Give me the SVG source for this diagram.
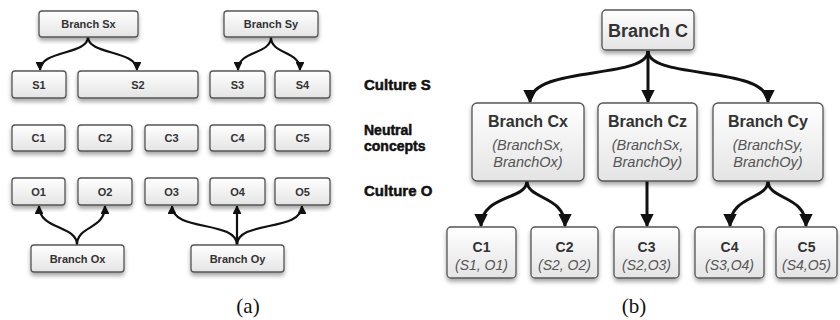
<svg xmlns="http://www.w3.org/2000/svg" width="840" height="320" viewBox="0 0 840 320">
<defs>
<linearGradient id="g" x1="0" y1="0" x2="0" y2="1">
<stop offset="0" stop-color="#ffffff"/>
<stop offset="1" stop-color="#e4e4e4"/>
</linearGradient>
<filter id="sh" x="-10%" y="-10%" width="120%" height="140%">
<feDropShadow dx="0" dy="3" stdDeviation="2" flood-color="#000" flood-opacity="0.35"/>
</filter>
<marker id="ah" viewBox="0 0 10 10" refX="9" refY="5" markerWidth="4" markerHeight="4" orient="auto" markerUnits="strokeWidth">
<path d="M0,0 L10,5 L0,10 Z" fill="#111"/>
</marker>
<marker id="ahs" viewBox="0 0 10 10" refX="9" refY="5" markerWidth="4.5" markerHeight="4.5" orient="auto" markerUnits="strokeWidth">
<path d="M0,0 L10,5 L0,10 Z" fill="#111"/>
</marker>
</defs>
<style>
.b{fill:url(#g);stroke:#555;stroke-width:1.3;filter:url(#sh)}
.t{font-family:"Liberation Sans",Arial,sans-serif;font-weight:bold;fill:#333;text-anchor:middle}
.s{font-size:11px}
.m{font-size:16px}
.n{font-size:14px}
.i{font-family:"Liberation Sans",Arial,sans-serif;font-style:italic;fill:#555;text-anchor:middle;font-size:14.5px}
.j{font-family:"Liberation Sans",Arial,sans-serif;font-style:italic;fill:#555;text-anchor:middle;font-size:14px}
.lab{font-family:"Liberation Sans",Arial,sans-serif;font-weight:bold;fill:#111;stroke:#111;stroke-width:0.5;font-size:15px}
.lab2{font-size:14px}
.cap{font-family:"Liberation Serif","Times New Roman",serif;font-size:21px;fill:#111;text-anchor:middle}
.c{fill:none;stroke:#111;stroke-width:2.2;marker-end:url(#ah)}
.cb{fill:none;stroke:#111;stroke-width:3;marker-end:url(#ahs)}
</style>
<g id="connectors">
<path class="c" d="M88,37 C88,55 40,50 40,70"/>
<path class="c" d="M88,37 C88,55 137,50 137,70"/>
<path class="c" d="M271,37 C271,55 238,50 238,70"/>
<path class="c" d="M271,37 C271,55 300,50 300,70"/>
<path class="c" d="M77,245 C77,225 39,230 39,206"/>
<path class="c" d="M77,245 C77,225 105,230 105,206"/>
<path class="c" d="M237,245 C237,220 172,232 172,206"/>
<path class="c" d="M237,245 L237,206"/>
<path class="c" d="M237,245 C237,220 302,232 302,206"/>
<path class="cb" d="M648,51 C648,80 530,65 530,102"/>
<path class="cb" d="M648,51 L648,102"/>
<path class="cb" d="M648,51 C648,80 768,65 768,102"/>
<path class="cb" d="M527,181 C527,200 481,195 481,226"/>
<path class="cb" d="M527,181 C527,200 565,195 565,226"/>
<path class="cb" d="M647,181 L647,226"/>
<path class="cb" d="M768,181 C768,200 730,195 730,226"/>
<path class="cb" d="M768,181 C768,200 806,195 806,226"/>
</g>
<g id="branchSx"><rect class="b" x="39" y="11" width="99" height="26" rx="3"/><text class="t s" x="88.5" y="28">Branch Sx</text></g>
<g id="branchSy"><rect class="b" x="224" y="11" width="94" height="26" rx="3"/><text class="t s" x="271" y="28">Branch Sy</text></g>
<g id="S1"><rect class="b" x="12" y="71" width="54" height="27" rx="3"/><text class="t s" x="39" y="88.5">S1</text></g>
<g id="S2"><rect class="b" x="78" y="71" width="120" height="27" rx="3"/><text class="t s" x="138" y="88.5">S2</text></g>
<g id="S3"><rect class="b" x="210" y="71" width="55" height="27" rx="3"/><text class="t s" x="237.5" y="88.5">S3</text></g>
<g id="S4"><rect class="b" x="275" y="71" width="55" height="27" rx="3"/><text class="t s" x="302.5" y="88.5">S4</text></g>
<g id="C1a"><rect class="b" x="12" y="125" width="53" height="26" rx="3"/><text class="t s" x="38.5" y="142">C1</text></g>
<g id="C2a"><rect class="b" x="78" y="125" width="54" height="26" rx="3"/><text class="t s" x="105" y="142">C2</text></g>
<g id="C3a"><rect class="b" x="145" y="125" width="53" height="26" rx="3"/><text class="t s" x="171.5" y="142">C3</text></g>
<g id="C4a"><rect class="b" x="210" y="125" width="55" height="26" rx="3"/><text class="t s" x="237.5" y="142">C4</text></g>
<g id="C5a"><rect class="b" x="275" y="125" width="55" height="26" rx="3"/><text class="t s" x="302.5" y="142">C5</text></g>
<g id="O1"><rect class="b" x="12" y="178" width="53" height="27" rx="3"/><text class="t s" x="38.5" y="195.5">O1</text></g>
<g id="O2"><rect class="b" x="78" y="178" width="54" height="27" rx="3"/><text class="t s" x="105" y="195.5">O2</text></g>
<g id="O3"><rect class="b" x="145" y="178" width="53" height="27" rx="3"/><text class="t s" x="171.5" y="195.5">O3</text></g>
<g id="O4"><rect class="b" x="210" y="178" width="55" height="27" rx="3"/><text class="t s" x="237.5" y="195.5">O4</text></g>
<g id="O5"><rect class="b" x="275" y="178" width="55" height="27" rx="3"/><text class="t s" x="302.5" y="195.5">O5</text></g>
<g id="branchOx"><rect class="b" x="31" y="245" width="93" height="27" rx="3"/><text class="t s" x="77.5" y="262.5">Branch Ox</text></g>
<g id="branchOy"><rect class="b" x="191" y="245" width="93" height="27" rx="3"/><text class="t s" x="237.5" y="262.5">Branch Oy</text></g>
<g id="labels">
<text class="lab" x="364" y="90">Culture S</text>
<text class="lab lab2" x="364" y="135">Neutral</text>
<text class="lab lab2" x="364" y="151">concepts</text>
<text class="lab" x="364" y="196">Culture O</text>
<text class="cap" x="248" y="313">(a)</text>
<text class="cap" x="634" y="313">(b)</text>
</g>
<g id="branchC"><rect class="b" x="602" y="10" width="92" height="40" rx="4"/><text class="t" style="font-size:18px" x="648" y="37">Branch C</text></g>
<g id="branchCx"><rect class="b" x="472" y="103" width="112" height="78" rx="5"/><text class="t m" x="528" y="127">Branch Cx</text><text class="i" x="528" y="150">(BranchSx,</text><text class="i" x="528" y="167">BranchOx)</text></g>
<g id="branchCz"><rect class="b" x="598" y="103" width="99" height="78" rx="5"/><text class="t m" x="647.5" y="127">Branch Cz</text><text class="i" x="647.5" y="150">(BranchSx,</text><text class="i" x="647.5" y="167">BranchOy)</text></g>
<g id="branchCy"><rect class="b" x="713" y="103" width="110" height="78" rx="5"/><text class="t m" x="768" y="127">Branch Cy</text><text class="i" x="768" y="150">(BranchSy,</text><text class="i" x="768" y="167">BranchOy)</text></g>
<g id="C1b"><rect class="b" x="447" y="227" width="69" height="51" rx="4"/><text class="t n" x="481.5" y="252">C1</text><text class="j" x="481.5" y="270">(S1, O1)</text></g>
<g id="C2b"><rect class="b" x="531" y="227" width="67" height="51" rx="4"/><text class="t n" x="564.5" y="252">C2</text><text class="j" x="564.5" y="270">(S2, O2)</text></g>
<g id="C3b"><rect class="b" x="614" y="227" width="65" height="51" rx="4"/><text class="t n" x="646.5" y="252">C3</text><text class="j" x="646.5" y="270">(S2,O3)</text></g>
<g id="C4b"><rect class="b" x="695" y="227" width="69" height="51" rx="4"/><text class="t n" x="729.5" y="252">C4</text><text class="j" x="729.5" y="270">(S3,O4)</text></g>
<g id="C5b"><rect class="b" x="776" y="227" width="61" height="51" rx="4"/><text class="t n" x="806.5" y="252">C5</text><text class="j" x="806.5" y="270">(S4,O5)</text></g>
</svg>
